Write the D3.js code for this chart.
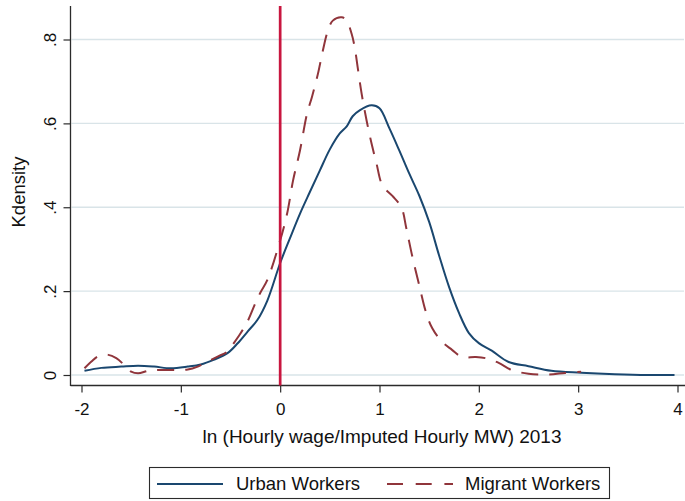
<!DOCTYPE html>
<html>
<head>
<meta charset="utf-8">
<script src="https://cdn.jsdelivr.net/npm/d3@7"></script>
<style>
  html, body { margin: 0; padding: 0; background: #fff; }
  svg { display: block; }
  text { font-family: "Liberation Sans", Arial, Helvetica, sans-serif; fill: #111; }
</style>
</head>
<body>
<svg id="chart" width="685" height="501"></svg>
<script>
// Kernel density of log(hourly wage / imputed hourly minimum wage), 2013
const urbanX = [-1.97, -1.8, -1.6, -1.43, -1.27, -1.1, -0.93, -0.8, -0.67, -0.53, -0.43, -0.33, -0.23, -0.13, 0, 0.1, 0.2, 0.3, 0.4, 0.5, 0.6, 0.67, 0.73, 0.8, 0.92, 1.0, 1.1, 1.2, 1.3, 1.4, 1.5, 1.6, 1.7, 1.8, 1.9, 2.0, 2.13, 2.3, 2.5, 2.73, 3.03, 3.37, 3.7, 3.97];
const urbanY = [0.010, 0.017, 0.020, 0.022, 0.020, 0.016, 0.020, 0.025, 0.036, 0.052, 0.075, 0.103, 0.131, 0.177, 0.267, 0.327, 0.385, 0.437, 0.488, 0.538, 0.576, 0.593, 0.617, 0.631, 0.643, 0.636, 0.588, 0.535, 0.480, 0.428, 0.365, 0.285, 0.210, 0.148, 0.100, 0.076, 0.058, 0.031, 0.021, 0.010, 0.0055, 0.002, 0.000, 0.000];

const migrantX = [-1.97, -1.9, -1.83, -1.73, -1.65, -1.57, -1.5, -1.43, -1.33, -1.23, -1.07, -0.93, -0.83, -0.73, -0.63, -0.53, -0.47, -0.4, -0.33, -0.25, -0.2, -0.13, 0, 0.07, 0.13, 0.2, 0.27, 0.32, 0.38, 0.43, 0.48, 0.53, 0.62, 0.67, 0.72, 0.75, 0.78, 0.82, 0.87, 0.92, 0.97, 1.03, 1.13, 1.22, 1.27, 1.33, 1.4, 1.47, 1.53, 1.63, 1.73, 1.83, 1.97, 2.07, 2.2, 2.33, 2.5, 2.7, 2.87, 3.03];
const migrantY = [0.016, 0.032, 0.045, 0.048, 0.040, 0.024, 0.008, 0.004, 0.010, 0.012, 0.012, 0.013, 0.020, 0.032, 0.044, 0.056, 0.075, 0.099, 0.127, 0.171, 0.196, 0.226, 0.321, 0.385, 0.464, 0.536, 0.623, 0.663, 0.718, 0.774, 0.821, 0.845, 0.853, 0.845, 0.813, 0.782, 0.734, 0.671, 0.607, 0.552, 0.504, 0.452, 0.427, 0.400, 0.350, 0.283, 0.214, 0.148, 0.112, 0.079, 0.060, 0.043, 0.043, 0.040, 0.029, 0.012, 0.003, 0.001, 0.005, 0.008];

const xTicks = [-2, -1, 0, 1, 2, 3, 4];
const xTickLabels = ["-2", "-1", "0", "1", "2", "3", "4"];
const yTicks = [0, 0.2, 0.4, 0.6, 0.8];
const yTickLabels = ["0", ".2", ".4", ".6", ".8"];
const seriesNames = ["Urban Workers", "Migrant Workers"];
const referenceX = 0;

const svg = d3.select("#chart");

const x = d3.scaleLinear().domain([-2, 4]).range([81.5, 677.5]);
const y = d3.scaleLinear().domain([0, 0.8]).range([375, 39.5]);

const plotLeft = 70.5, plotRight = 684, plotTop = 6, plotBottom = 385.5;

const colUrban = "#1a476f";
const colMigrant = "#90353b";
const colRef = "#c8163f";
const colGrid = "#d9e4e8";
const colAxis = "#2b2b2b";

// horizontal grid
svg.append("g").selectAll("line").data(yTicks).join("line")
  .attr("x1", plotLeft + 1).attr("x2", plotRight)
  .attr("y1", d => y(d)).attr("y2", d => y(d))
  .attr("stroke", colGrid).attr("stroke-width", 1.3);

// y axis
const yAxis = svg.append("g").attr("transform", `translate(${plotLeft},0)`)
  .call(d3.axisLeft(y).tickValues(yTicks).tickSize(7).tickFormat((d, i) => yTickLabels[i]));
yAxis.select(".domain").remove();
yAxis.selectAll(".tick line").attr("stroke", colAxis).attr("stroke-width", 1.2);
yAxis.selectAll(".tick text")
  .attr("x", null).attr("dy", null)
  .attr("transform", "translate(-15,0) rotate(-90)")
  .attr("text-anchor", "middle")
  .style("font-size", "17px").style("font-family", "Liberation Sans, Arial, sans-serif")
  .attr("fill", "#111");
svg.append("line").attr("x1", plotLeft).attr("x2", plotLeft)
  .attr("y1", plotTop).attr("y2", plotBottom + 0.5)
  .attr("stroke", colAxis).attr("stroke-width", 1.3);

// x axis
const xAxis = svg.append("g").attr("transform", `translate(0,${plotBottom})`)
  .call(d3.axisBottom(x).tickValues(xTicks).tickSize(7).tickFormat((d, i) => xTickLabels[i]));
xAxis.select(".domain").remove();
xAxis.selectAll(".tick line").attr("stroke", colAxis).attr("stroke-width", 1.2);
xAxis.selectAll(".tick text")
  .attr("y", 29.5).attr("dy", null)
  .style("font-size", "17px").style("font-family", "Liberation Sans, Arial, sans-serif")
  .attr("fill", "#111");
svg.append("line").attr("x1", plotLeft).attr("x2", 685)
  .attr("y1", plotBottom).attr("y2", plotBottom)
  .attr("stroke", colAxis).attr("stroke-width", 1.3);

// axis titles
svg.append("text")
  .attr("x", 382).attr("y", 443)
  .attr("text-anchor", "middle")
  .style("font-size", "19px")
  .text("ln (Hourly wage/Imputed Hourly MW) 2013");
svg.append("text")
  .attr("transform", "translate(25,192) rotate(-90)")
  .attr("text-anchor", "middle")
  .style("font-size", "18.5px")
  .text("Kdensity");

// density curves
const line = d3.line()
  .x(d => x(d[0])).y(d => y(d[1]))
  .curve(d3.curveCatmullRom.alpha(0.5));

const urban = urbanX.map((v, i) => [v, urbanY[i]]);
const migrant = migrantX.map((v, i) => [v, migrantY[i]]);

svg.append("path").datum(urban)
  .attr("d", line).attr("fill", "none")
  .attr("stroke", colUrban).attr("stroke-width", 2);

svg.append("path").datum(migrant)
  .attr("d", line).attr("fill", "none")
  .attr("stroke", colMigrant).attr("stroke-width", 2)
  .attr("stroke-dasharray", "17,11");

// reference line at zero
svg.append("line")
  .attr("x1", x(referenceX)).attr("x2", x(referenceX))
  .attr("y1", plotTop).attr("y2", plotBottom)
  .attr("stroke", colRef).attr("stroke-width", 2.7);

// legend
const legend = svg.append("g");
legend.append("rect")
  .attr("x", 149.5).attr("y", 467.5).attr("width", 460).attr("height", 31)
  .attr("fill", "#fff").attr("stroke", colAxis).attr("stroke-width", 1.1);
legend.append("line")
  .attr("x1", 157).attr("x2", 223).attr("y1", 484).attr("y2", 484)
  .attr("stroke", colUrban).attr("stroke-width", 2);
legend.append("text").attr("x", 236).attr("y", 490)
  .style("font-size", "18.5px").text(seriesNames[0]);
legend.append("line")
  .attr("x1", 387).attr("x2", 453).attr("y1", 484).attr("y2", 484)
  .attr("stroke", colMigrant).attr("stroke-width", 2)
  .attr("stroke-dasharray", "16,12.7");
legend.append("text").attr("x", 465).attr("y", 490)
  .style("font-size", "18.5px").text(seriesNames[1]);
</script>
</body>
</html>
